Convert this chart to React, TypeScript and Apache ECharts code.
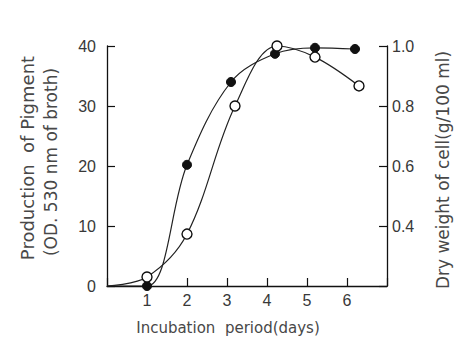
import React, { useEffect, useRef } from "react";
import * as echarts from "echarts";

const days = [0, 1, 2, 3, 4, 5, 6, 7];
const pigmentDays = [0, 1, 2, 3.1, 4.2, 5.2, 6.2];
const pigment = [0, 0, 20.2, 34, 38.7, 39.7, 39.5];
const dryDays = [0, 1, 2, 3.2, 4.25, 5.2, 6.3];
const dryWeight = [0.2, 0.23, 0.373, 0.8, 1.0, 0.963, 0.867];
const leftTicks = [0, 10, 20, 30, 40];
const rightTicks = [0.4, 0.6, 0.8, 1.0];

export default function App() {
  const ref = useRef<HTMLDivElement>(null);
  useEffect(() => {
    document.body.style.margin = "0";
    const chart = echarts.init(ref.current!, undefined, { renderer: "svg" });
    const font = "Liberation Sans";
    const tfont = "DejaVu Sans";
    const txt = "#383838";
    const ttl = "#484848";
    const pData = pigmentDays.map((d, i) =>
      i === 0 ? { value: [d, pigment[i]], symbol: "none" } : { value: [d, pigment[i]] }
    );
    const dData = dryDays.map((d, i) =>
      i === 0 ? { value: [d, dryWeight[i]], symbol: "none" } : { value: [d, dryWeight[i]] }
    );
    chart.setOption({
      animation: false,
      backgroundColor: "#fff",
      grid: { left: 107, right: 67, top: 46, bottom: 65 },
      xAxis: {
        type: "value",
        min: days[0],
        max: days[days.length - 1],
        interval: 1,
        axisLine: { lineStyle: { color: "#111", width: 1.3 } },
        axisTick: { inside: true, length: 8, lineStyle: { color: "#111", width: 1.2 } },
        splitLine: { show: false },
        axisLabel: {
          color: txt,
          fontFamily: font,
          fontSize: 16,
          margin: 6,
          formatter: (v: number) => (v >= 1 && v <= 6 ? String(v) : ""),
        },
      },
      yAxis: [
        {
          type: "value",
          min: leftTicks[0],
          max: leftTicks[leftTicks.length - 1],
          interval: 10,
          axisLine: { show: true, lineStyle: { color: "#111", width: 1.3 } },
          axisTick: { show: true, inside: true, length: 8, lineStyle: { color: "#111", width: 1.2 } },
          splitLine: { show: false },
          axisLabel: { color: txt, fontFamily: font, fontSize: 16, margin: 11 },
        },
        {
          type: "value",
          position: "right",
          min: 0.2,
          max: rightTicks[rightTicks.length - 1],
          interval: 0.2,
          axisLine: { show: true, lineStyle: { color: "#111", width: 1.3 } },
          axisTick: { show: true, inside: true, length: 8, lineStyle: { color: "#111", width: 1.2 } },
          splitLine: { show: false },
          axisLabel: {
            color: txt,
            fontFamily: font,
            fontSize: 16,
            margin: 5,
            formatter: (v: number) =>
              rightTicks.some((t) => Math.abs(t - v) < 1e-6) ? v.toFixed(1) : "",
          },
        },
      ],
      series: [
        {
          type: "line",
          yAxisIndex: 0,
          data: pData,
          smooth: 0.35,
          symbol: "circle",
          symbolSize: 9,
          itemStyle: { color: "#111", borderColor: "#111", borderWidth: 1 },
          lineStyle: { color: "#222", width: 1.2 },
          z: 3,
        },
        {
          type: "line",
          yAxisIndex: 1,
          data: dData,
          smooth: 0.35,
          symbol: "circle",
          symbolSize: 10,
          itemStyle: { color: "#fff", borderColor: "#111", borderWidth: 1.4 },
          lineStyle: { color: "#222", width: 1.2 },
          z: 4,
        },
      ],
      graphic: [
        {
          type: "text",
          x: 27,
          y: 158,
          rotation: Math.PI / 2,
          style: {
            text: "Production  of Pigment",
            fill: ttl,
            font: `18px ${tfont}`,
            align: "center",
            verticalAlign: "middle",
          },
        },
        {
          type: "text",
          x: 51,
          y: 162,
          rotation: Math.PI / 2,
          style: {
            text: "(OD. 530 nm of broth)",
            fill: ttl,
            font: `17px ${tfont}`,
            align: "center",
            verticalAlign: "middle",
          },
        },
        {
          type: "text",
          x: 443,
          y: 170,
          rotation: Math.PI / 2,
          style: {
            text: "Dry weight of cell(g/100 ml)",
            fill: ttl,
            font: `17px ${tfont}`,
            align: "center",
            verticalAlign: "middle",
          },
        },
        {
          type: "text",
          x: 228,
          y: 328,
          style: {
            text: "Incubation  period(days)",
            fill: ttl,
            font: `15px ${tfont}`,
            align: "center",
            verticalAlign: "middle",
          },
        },
      ],
    });
    return () => chart.dispose();
  }, []);
  return <div ref={ref} style={{ width: 454, height: 351 }} />;
}
